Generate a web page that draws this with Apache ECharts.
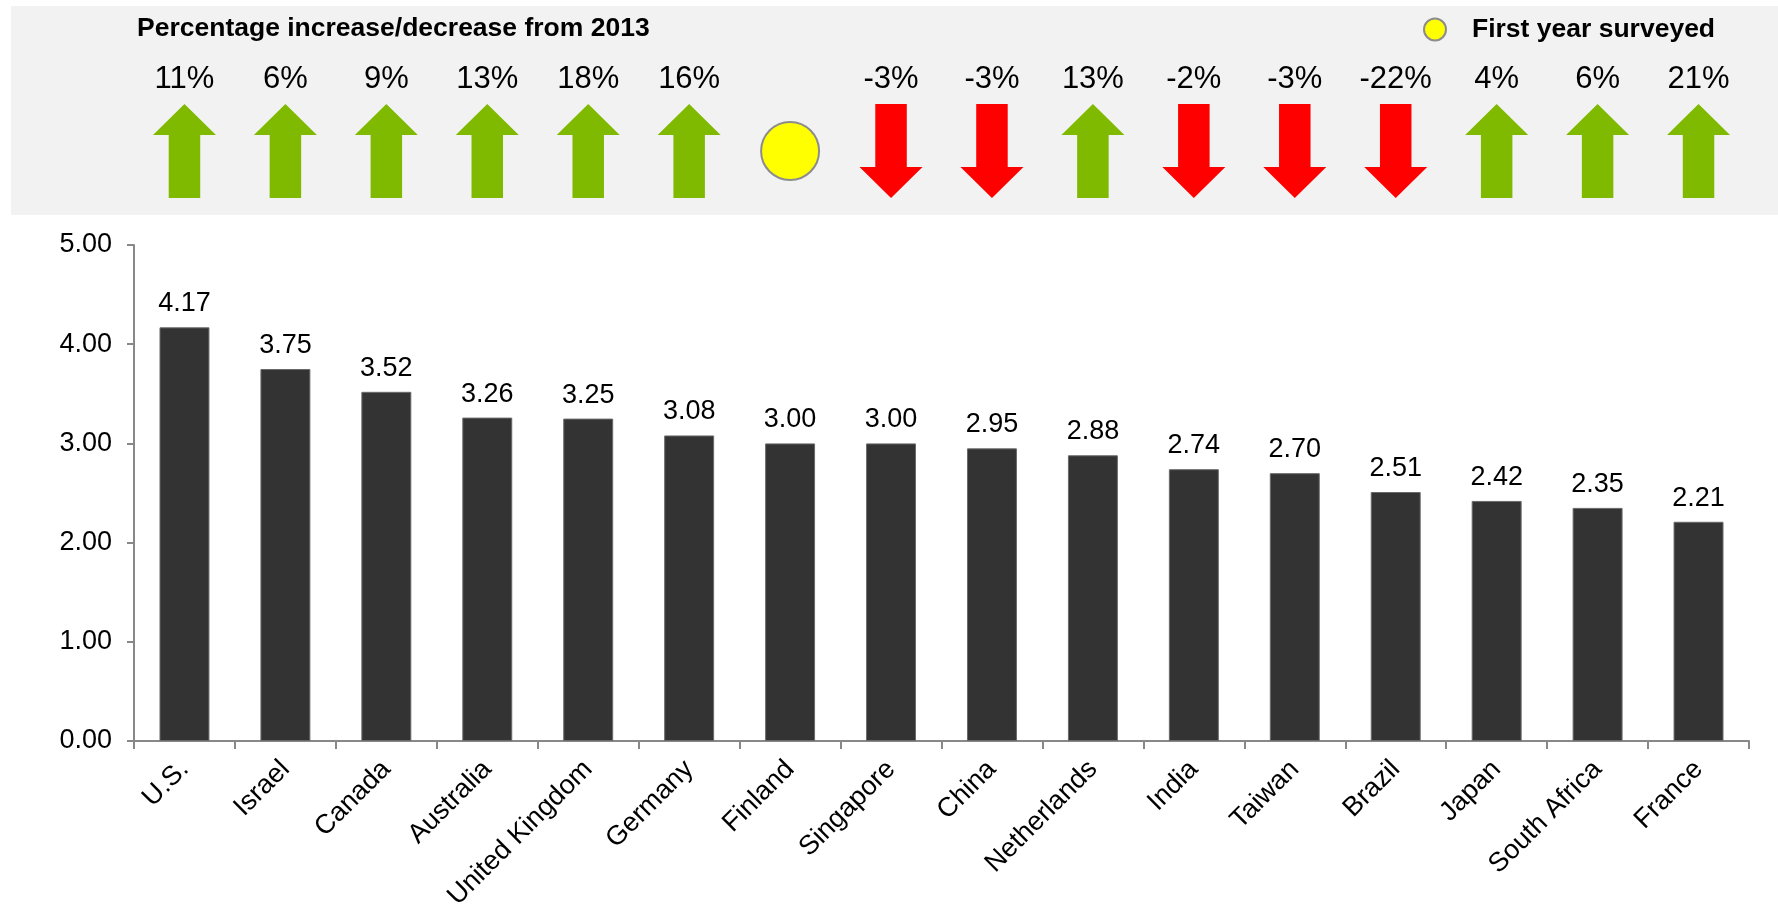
<!DOCTYPE html>
<html>
<head>
<meta charset="utf-8">
<script src="https://cdn.jsdelivr.net/npm/echarts@6/dist/echarts.min.js"></script>
<style>
  html, body { margin: 0; padding: 0; background: #fff; }
  #chart { width: 1778px; height: 907px; }
</style>
</head>
<body>
<div id="chart"></div>
<script>
// countries, sorted by score
const countries = ["U.S.", "Israel", "Canada", "Australia", "United Kingdom", "Germany", "Finland",
  "Singapore", "China", "Netherlands", "India", "Taiwan", "Brazil", "Japan", "South Africa", "France"];
const scores = [4.17, 3.75, 3.52, 3.26, 3.25, 3.08, 3.00, 3.00, 2.95, 2.88, 2.74, 2.70, 2.51, 2.42, 2.35, 2.21];
// change from 2013 in %, null = first year surveyed
const change = [11, 6, 9, 13, 18, 16, null, -3, -3, 13, -2, -3, -22, 4, 6, 21];
const yTicks = [0, 1, 2, 3, 4, 5];

const font = "Liberation Sans, Arial, sans-serif";
const upPath = "path://M50 0 L100 33 L75 33 L75 100 L25 100 L25 33 L0 33 Z";
const downPath = "path://M25 0 L75 0 L75 67 L100 67 L50 100 L0 67 L25 67 Z";

const arrowData = [];
const firstYear = [];
change.forEach((c, i) => {
  if (c === null) {
    firstYear.push([countries[i], 0.5]);
    return;
  }
  arrowData.push({
    value: [countries[i], 0.5],
    symbol: c >= 0 ? upPath : downPath,
    itemStyle: { color: c >= 0 ? "#80ba00" : "#ff0000" },
    label: { formatter: c + "%" }
  });
});

const chart = echarts.init(document.getElementById("chart"));

const options = {
  animation: false,
  textStyle: { fontFamily: font },
  graphic: [
    {
      type: "rect",
      z: -10,
      shape: { x: 11, y: 6, width: 1767, height: 209 },
      style: { fill: "#f2f2f2" }
    }
  ],
  title: {
    text: "Percentage increase/decrease from 2013",
    left: 132,
    top: 10,
    textStyle: { fontFamily: font, fontSize: 26.5, fontWeight: "bold", color: "#000" }
  },
  legend: {
    data: ["First year surveyed"],
    left: 1418,
    top: 11,
    icon: "circle",
    itemWidth: 64,
    itemHeight: 22,
    textStyle: { fontFamily: font, fontSize: 26.5, fontWeight: "bold", color: "#000" }
  },
  grid: [
    { left: 134, right: 29, top: 245, bottom: 166, outerBoundsMode: "none" },
    { left: 134, right: 29, top: 104, height: 94, outerBoundsMode: "none" }
  ],
  xAxis: [
    {
      type: "category",
      gridIndex: 0,
      data: countries,
      axisLine: { lineStyle: { color: "#888", width: 2 } },
      axisTick: { show: true, length: 8, lineStyle: { color: "#888", width: 2 } },
      axisLabel: { rotate: 45, color: "#000", fontSize: 27, margin: 24, fontFamily: font }
    },
    {
      type: "category",
      gridIndex: 1,
      data: countries,
      show: false
    }
  ],
  yAxis: [
    {
      type: "value",
      gridIndex: 0,
      min: yTicks[0],
      max: yTicks[yTicks.length - 1],
      interval: 1,
      splitLine: { show: false },
      axisLine: { show: true, lineStyle: { color: "#888", width: 2 } },
      axisTick: { show: true, length: 7, lineStyle: { color: "#888", width: 2 } },
      axisLabel: {
        color: "#000",
        fontSize: 27,
        margin: 22,
        fontFamily: font,
        formatter: (v) => v.toFixed(2)
      }
    },
    {
      type: "value",
      gridIndex: 1,
      min: 0,
      max: 1,
      show: false
    }
  ],
  series: [
    {
      type: "bar",
      xAxisIndex: 0,
      yAxisIndex: 0,
      data: scores,
      barWidth: "49.5%",
      itemStyle: { color: "#333333", borderColor: "#6a6a6a", borderWidth: 1 },
      label: {
        show: true,
        position: "top",
        distance: 10,
        color: "#000",
        fontSize: 27,
        fontFamily: font,
        formatter: (p) => p.value.toFixed(2)
      }
    },
    {
      type: "scatter",
      xAxisIndex: 1,
      yAxisIndex: 1,
      symbolSize: [63, 94],
      data: arrowData,
      itemStyle: { opacity: 1 },
      label: {
        show: true,
        position: "top",
        distance: 9,
        color: "#000",
        fontSize: 31,
        fontFamily: font
      }
    },
    {
      name: "First year surveyed",
      type: "scatter",
      xAxisIndex: 1,
      yAxisIndex: 1,
      symbol: "circle",
      symbolSize: 58,
      data: firstYear,
      itemStyle: { color: "#ffff00", borderColor: "#8c8c8c", borderWidth: 2, opacity: 1 }
    }
  ]
};

chart.setOption(options);
</script>
</body>
</html>
